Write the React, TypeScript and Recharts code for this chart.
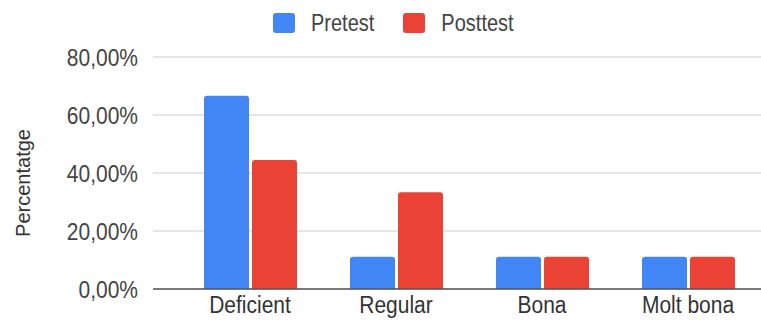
import React from 'react';
import { BarChart, Bar, XAxis, YAxis, CartesianGrid, Legend } from 'recharts';

const categories = ['Deficient', 'Regular', 'Bona', 'Molt bona'];
const pretest = [66.67, 11.11, 11.11, 11.11];
const posttest = [44.44, 33.33, 11.11, 11.11];
const yTicks = [0, 20, 40, 60, 80];

const BLUE = '#4285f4';
const RED = '#ea4335';
const FONT = '"Liberation Sans", Arial, sans-serif';
// text in this chart is a bit taller than it is wide
const STRETCH = 1.15;

const data = categories.map((name, i) => ({ name, pretest: pretest[i], posttest: posttest[i] }));

const fmtPct = (v: number) => `${v.toFixed(2).replace('.', ',')}%`;

const XTick = ({ x, y, payload }: any) => (
  <g transform={`translate(${x},${y}) scale(1,${STRETCH})`}>
    <text x={0} y={0} dy={15.5} textAnchor="middle" fontFamily={FONT} fontSize={21} fill="#333">
      {payload.value}
    </text>
  </g>
);

const YTick = ({ x, y, payload }: any) => (
  <g transform={`translate(${x},${y}) scale(1,${STRETCH})`}>
    <text x={0} y={0} dy={7.5} textAnchor="end" fontFamily={FONT} fontSize={21} fill="#444">
      {fmtPct(payload.value)}
    </text>
  </g>
);

const YLabel = ({ viewBox }: any) => {
  const cy = viewBox.y + viewBox.height / 2 + 10;
  return (
    <g transform={`translate(30,${cy}) rotate(-90)`}>
      <text x={0} y={0} textAnchor="middle" fontFamily={FONT} fontSize={20} fill="#333">
        Percentatge
      </text>
    </g>
  );
};

const legendItems = [
  { label: 'Pretest', color: BLUE },
  { label: 'Posttest', color: RED },
];

const LegendContent = () => (
  <div style={{ display: 'flex', alignItems: 'center', height: 22, paddingLeft: 273, fontFamily: FONT }}>
    {legendItems.map((it, i) => (
      <div key={it.label} style={{ display: 'flex', alignItems: 'center', marginRight: i === 0 ? 29 : 0 }}>
        <div style={{ width: 22, height: 20, borderRadius: 3, background: it.color, marginRight: 16 }} />
        <span style={{ fontSize: 20, color: '#444', display: 'inline-block', transform: `scaleY(${STRETCH})` }}>
          {it.label}
        </span>
      </div>
    ))}
  </div>
);

export default function App() {
  return (
    <div style={{ width: 761, height: 320, background: '#fff' }}>
      <style>{'body{margin:0;}'}</style>
      <BarChart
        width={761}
        height={320}
        data={data}
        margin={{ top: 12, right: 0, bottom: 0, left: 0 }}
        barSize={45}
        barGap={3}
      >
        <Legend verticalAlign="top" height={45} content={<LegendContent />} />
        <CartesianGrid vertical={false} stroke="#dcdcdc" strokeWidth={1.5} />
        <XAxis
          dataKey="name"
          height={31}
          tickLine={false}
          tickMargin={0}
          axisLine={{ stroke: '#555', strokeWidth: 1.5 }}
          padding={{ left: 24, right: 0 }}
          tick={<XTick />}
          interval={0}
        />
        <YAxis
          width={153}
          domain={[0, 80]}
          ticks={yTicks}
          tickLine={false}
          axisLine={false}
          tickMargin={9}
          tick={<YTick />}
          label={<YLabel />}
        />
        <Bar dataKey="pretest" name="Pretest" fill={BLUE} radius={[3, 3, 0, 0]} isAnimationActive={false} />
        <Bar dataKey="posttest" name="Posttest" fill={RED} radius={[3, 3, 0, 0]} isAnimationActive={false} />
      </BarChart>
    </div>
  );
}
